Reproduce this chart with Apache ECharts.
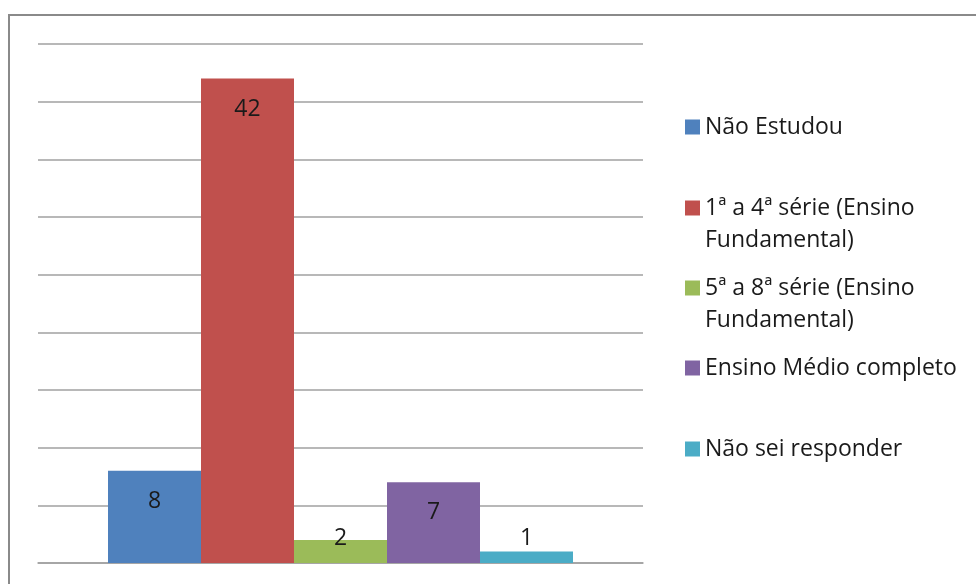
<!DOCTYPE html>
<html><head><meta charset="utf-8">
<script src="https://cdn.jsdelivr.net/npm/echarts@6/dist/echarts.min.js"></script>
<style>html,body{margin:0;padding:0;background:#fff}#c{width:976px;height:584px}</style>
</head><body><div id="c"></div>
<script>
const categories = [''];
const seriesNames = ['Não Estudou', '1ª a 4ª série (Ensino Fundamental)', '5ª a 8ª série (Ensino Fundamental)', 'Ensino Médio completo', 'Não sei responder'];
const legendText = ['Não Estudou', ' \n1ª a 4ª série (Ensino\nFundamental)', ' \n5ª a 8ª série (Ensino\nFundamental)', 'Ensino Médio completo', 'Não sei responder'];
const values = [8, 42, 2, 7, 1];
const colors = ['#4f81bd', '#c0504d', '#9bbb59', '#8064a2', '#4bacc6'];
const yTicks = {min: 0, max: 45, interval: 5};

const FONT = '"Open Sans"';
const legendCenters = [127, 208, 288, 368, 449];

const series = seriesNames.map((n, i) => {
  const small = values[i] < 4;
  return {
    name: n, type: 'bar', data: [values[i]], barWidth: 93, barGap: '0%',
    itemStyle: {color: colors[i]},
    label: {
      show: true, position: small ? 'insideBottom' : 'insideTop', distance: small ? 13 : 19,
      color: '#1a1a1a', fontFamily: FONT, fontSize: 23
    }
  };
});

const legends = seriesNames.map((n, i) => {
  const two = legendText[i].indexOf('\n') >= 0;
  return {
    data: [n], orient: 'vertical', left: 685, top: legendCenters[i] - (two ? 48 : 16),
    padding: 0, itemWidth: 15, itemHeight: 15, icon: 'rect',
    formatter: () => legendText[i],
    textStyle: {fontFamily: FONT, fontSize: 23, color: '#1a1a1a', lineHeight: 32}
  };
});

const chart = echarts.init(document.getElementById('c'));
chart.setOption({
  animation: false,
  color: colors,
  graphic: [{type: 'rect', shape: {x: 9, y: 15, width: 1000, height: 600}, style: {fill: 'none', stroke: '#8a8a8a', lineWidth: 2}, z: -1}],
  grid: {left: 38, right: 333, top: 44, bottom: 21, containLabel: false},
  legend: legends,
  xAxis: {type: 'category', data: categories, axisLine: {lineStyle: {color: '#a0a0a0', width: 1.5}}, axisTick: {show: false}, axisLabel: {show: false}},
  yAxis: {type: 'value', min: yTicks.min, max: yTicks.max, interval: yTicks.interval,
    axisLabel: {show: false}, axisLine: {show: false}, axisTick: {show: false},
    splitLine: {lineStyle: {color: '#a0a0a0', width: 1.5}}},
  series: series
});
</script></body></html>
